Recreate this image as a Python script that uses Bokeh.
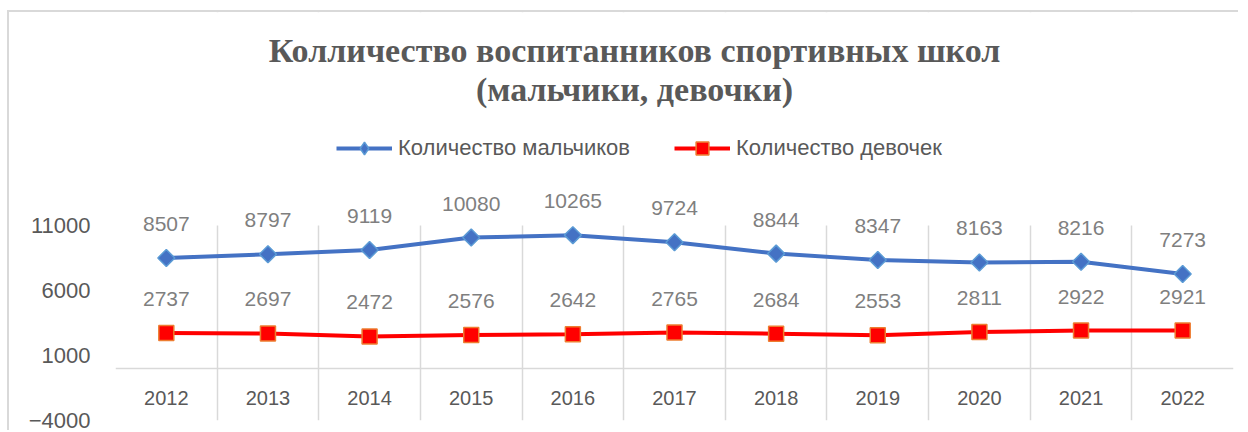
import numpy as np
from bokeh.plotting import figure
from bokeh.models import (ColumnDataSource, FixedTicker, Label, LabelSet, Legend,
                          LegendItem, Range1d, BoxAnnotation)
from bokeh.core.properties import value
from bokeh.embed import file_html
from bokeh.resources import INLINE

years = ["2012", "2013", "2014", "2015", "2016", "2017", "2018", "2019", "2020", "2021", "2022"]
boys = [8507, 8797, 9119, 10080, 10265, 9724, 8844, 8347, 8163, 8216, 7273]
girls = [2737, 2697, 2472, 2576, 2642, 2765, 2684, 2553, 2811, 2922, 2921]
y_ticks = [-4000, 1000, 6000, 11000]
title_lines = ["Колличество воспитанников спортивных школ", "(мальчики, девочки)"]
series_names = ["Количество мальчиков", "Количество девочек"]

x = np.arange(len(years)) + 0.5
src = ColumnDataSource(dict(x=x, boys=boys, girls=girls,
                            bl=[str(v) for v in boys], gl=[str(v) for v in girls]))

GRAY = "#595959"
FONT = "Liberation Sans"
BLUE, BLUE_EDGE = "#4472C4", "#5B9BD5"
RED, RED_EDGE = "#FF0000", "#ED7D31"

# frame extends up to the top so that title, legend and labels are not clipped
p = figure(width=1231, height=420, x_range=Range1d(0, len(years)),
           y_range=Range1d(y_ticks[0], 27400),
           output_backend="svg", toolbar_location=None,
           min_border_left=106, min_border_right=7, min_border_top=0, min_border_bottom=12,
           outline_line_color=None)
p.styles = {"margin-left": "7px", "margin-top": "10px",
            "border-left": "2px solid #d9d9d9", "border-top": "2px solid #d9d9d9"}

# axes
p.yaxis.ticker = FixedTicker(ticks=y_ticks)
p.yaxis.axis_line_color = None
p.yaxis.major_tick_line_color = None
p.yaxis.minor_tick_line_color = None
p.yaxis.major_label_standoff = 19
p.yaxis.major_label_text_font = FONT
p.yaxis.major_label_text_font_size = "22px"
p.yaxis.major_label_text_color = GRAY

p.xaxis.ticker = FixedTicker(ticks=list(x))
p.xaxis.major_label_overrides = {float(v): y for v, y in zip(x, years)}
p.xaxis.fixed_location = 0
p.xaxis.axis_line_color = "#d9d9d9"
p.xaxis.axis_line_width = 1.5
p.xaxis.major_tick_line_color = None
p.xaxis.minor_tick_line_color = None
p.xaxis.major_label_standoff = 16
p.xaxis.major_label_text_font = FONT
p.xaxis.major_label_text_font_size = "20px"
p.xaxis.major_label_text_color = GRAY

p.ygrid.grid_line_color = None
p.xgrid.ticker = FixedTicker(ticks=list(range(len(years) + 1)))
p.xgrid.grid_line_color = "#d9d9d9"
p.xgrid.grid_line_width = 1.5
# hide the grid above the top value tick
p.add_layout(BoxAnnotation(bottom=y_ticks[-1], fill_color="white", fill_alpha=1,
                           line_color=None, level="underlay"))

# series
lb = p.line("x", "boys", source=src, line_color=BLUE, line_width=4)
sb = p.scatter("x", "boys", source=src, marker="square", angle=np.pi / 4, size=12,
               fill_color=BLUE, line_color=BLUE_EDGE, line_width=1.5)
lg = p.line("x", "girls", source=src, line_color=RED, line_width=4)
sg = p.scatter("x", "girls", source=src, marker="square", size=15,
               fill_color=RED, line_color=RED_EDGE, line_width=1.5)
# legend-only diamond marker (zero size in the plot, hidden under the real markers)
db = p.scatter("x", "boys", source=src, marker="diamond", size=0,
               fill_color=BLUE, line_color=BLUE_EDGE, line_width=1.5)

for col, txt in (("boys", "bl"), ("girls", "gl")):
    p.add_layout(LabelSet(x="x", y=col, text=txt, source=src, y_offset=34,
                          text_align="center", text_baseline="middle",
                          text_font=value(FONT), text_font_size=value("21px"),
                          text_color=value("#7f7f7f")))

# title
for line, yy in zip(title_lines, (370, 331)):
    p.add_layout(Label(x=519, y=yy, x_units="screen", y_units="screen", text=line,
                       text_align="center", text_baseline="alphabetic",
                       text_font="Liberation Serif", text_font_style="bold",
                       text_font_size="34px", text_color=GRAY))

legend = Legend(items=[LegendItem(label=series_names[0], renderers=[lb, db]),
                       LegendItem(label=series_names[1], renderers=[lg, sg])],
                orientation="horizontal", location=(221, 256), padding=0, margin=0,
                border_line_color=None, background_fill_alpha=0,
                glyph_width=56, glyph_height=32, label_height=32, label_standoff=6, spacing=44,
                label_text_font=FONT, label_text_font_size="22px", label_text_color=GRAY)
p.add_layout(legend)

open("out.html", "w").write(file_html(p, INLINE))
